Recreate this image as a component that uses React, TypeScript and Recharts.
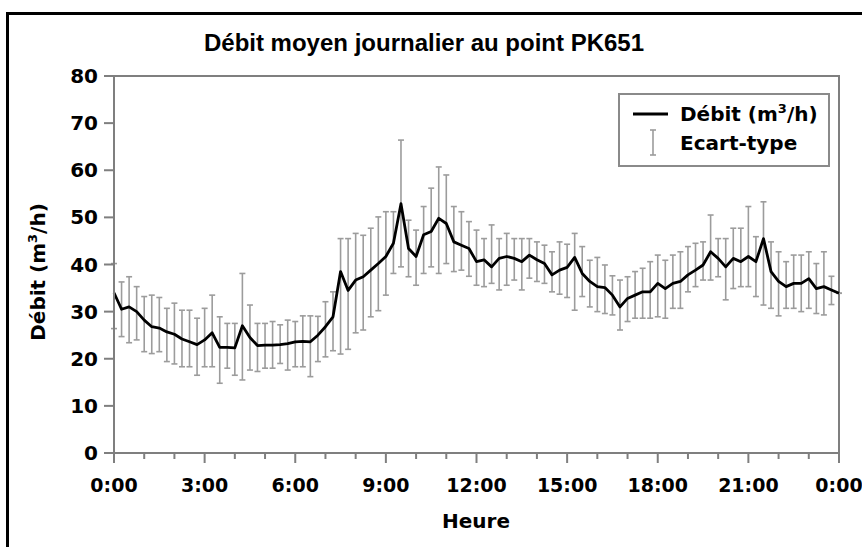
import React from 'react';
import { LineChart, Line, XAxis, YAxis, ErrorBar, Legend, ReferenceArea } from 'recharts';

const FONT = "'DejaVu Sans', 'Liberation Sans', sans-serif";
const TITLE_FONT = "'Liberation Sans', Arial, sans-serif";

const hours = [
  0, 0.25, 0.5, 0.75, 1, 1.25, 1.5, 1.75, 2, 2.25, 2.5, 2.75,
  3, 3.25, 3.5, 3.75, 4, 4.25, 4.5, 4.75, 5, 5.25, 5.5, 5.75,
  6, 6.25, 6.5, 6.75, 7, 7.25, 7.5, 7.75, 8, 8.25, 8.5, 8.75,
  9, 9.25, 9.5, 9.75, 10, 10.25, 10.5, 10.75, 11, 11.25, 11.5, 11.75,
  12, 12.25, 12.5, 12.75, 13, 13.25, 13.5, 13.75, 14, 14.25, 14.5, 14.75,
  15, 15.25, 15.5, 15.75, 16, 16.25, 16.5, 16.75, 17, 17.25, 17.5, 17.75,
  18, 18.25, 18.5, 18.75, 19, 19.25, 19.5, 19.75, 20, 20.25, 20.5, 20.75,
  21, 21.25, 21.5, 21.75, 22, 22.25, 22.5, 22.75, 23, 23.25, 23.5, 23.75,
  24,
];

// Débit moyen (m3/h)
const flow = [
  34.0, 30.5, 31.0, 30.0, 28.2, 26.8, 26.5, 25.7, 25.2, 24.2, 23.6, 23.0,
  24.0, 25.5, 22.4, 22.4, 22.3, 27.0, 24.5, 22.8, 22.9, 22.9, 23.0, 23.2,
  23.6, 23.7, 23.6, 25.0, 26.8, 28.9, 38.5, 34.5, 36.7, 37.4, 38.8, 40.2,
  41.7, 44.5, 52.9, 43.4, 41.7, 46.3, 47.0, 49.8, 48.7, 44.8, 44.1, 43.4,
  40.6, 41.0, 39.5, 41.3, 41.7, 41.3, 40.6, 42.0, 41.0, 40.2, 37.8, 38.8,
  39.4, 41.5, 38.1, 36.4, 35.3, 35.1, 33.5, 31.0, 32.8, 33.5, 34.2, 34.2,
  36.0, 34.9, 36.0, 36.4, 37.8, 38.8, 39.9, 42.7, 41.3, 39.5, 41.3, 40.6,
  41.7, 40.6, 45.5, 38.5, 36.4, 35.3, 36.0, 36.0, 37.0, 34.9, 35.3, 34.6,
  33.9,
];

// Ecart-type: upper and lower ends of each bar
const barTop = [
  40.2, 36.3, 37.4, 35.3, 33.2, 33.5, 33.0, 30.7, 31.8, 30.3, 30.3, 28.6,
  30.7, 33.5, 28.9, 27.5, 27.5, 38.1, 31.4, 27.5, 27.5, 27.9, 27.2, 28.2,
  27.9, 29.1, 29.1, 29.0, 32.1, 34.2, 45.5, 45.5, 46.6, 46.2, 47.7, 50.1,
  51.2, 51.2, 66.4, 49.4, 47.3, 52.3, 56.2, 60.7, 59.0, 52.3, 51.2, 49.1,
  47.3, 45.5, 48.4, 45.5, 46.6, 45.5, 45.5, 45.5, 44.8, 44.1, 42.7, 44.8,
  44.3, 46.6, 43.8, 40.9, 41.5, 39.9, 37.6, 36.7, 37.4, 38.5, 39.2, 40.6,
  42.0, 40.9, 42.0, 42.7, 43.8, 44.5, 44.8, 50.5, 45.5, 45.5, 47.7, 47.7,
  52.3, 45.9, 53.3, 44.8, 42.7, 40.6, 42.0, 42.0, 42.7, 40.2, 42.7, 37.5,
  33.9,
];

const barBottom = [
  26.4, 24.7, 23.4, 24.0, 21.5, 21.1, 21.5, 19.4, 18.9, 18.3, 18.3, 16.5,
  18.3, 18.3, 14.8, 18.0, 16.5, 15.5, 17.6, 17.3, 18.0, 18.0, 19.0, 17.6,
  18.3, 18.3, 16.2, 19.4, 20.4, 21.7, 21.0, 22.0, 25.5, 26.1, 28.9, 30.2,
  33.5, 38.1, 39.5, 37.4, 35.6, 38.1, 39.5, 38.1, 40.2, 38.5, 38.8, 37.5,
  35.6, 35.3, 36.0, 34.6, 35.6, 36.7, 34.6, 37.1, 36.4, 36.0, 34.2, 33.7,
  33.0, 30.3, 33.2, 31.0, 30.0, 29.6, 29.3, 26.1, 27.9, 28.6, 28.6, 28.6,
  28.9, 28.6, 30.7, 30.7, 34.2, 35.3, 36.7, 36.7, 37.4, 32.5, 34.9, 35.3,
  35.3, 33.2, 31.4, 30.7, 29.1, 30.7, 30.7, 30.0, 30.7, 29.6, 29.3, 31.5,
  33.9,
];

const xTicks = [0, 1, 2, 3, 4, 5, 6, 7, 8, 9, 10, 11, 12, 13, 14, 15, 16, 17, 18, 19, 20, 21, 22, 23, 24];
const xTickLabels = ['0:00', '3:00', '6:00', '9:00', '12:00', '15:00', '18:00', '21:00', '0:00'];
const yTicks = [0, 10, 20, 30, 40, 50, 60, 70, 80];

const AXIS_GRAY = '#7f7f7f';
const BAR_GRAY = '#9c9c9c';

function XTick(props: any) {
  const { x, y, payload } = props;
  const v = payload.value;
  const major = v % 3 === 0;
  return (
    <g>
      <line x1={x} x2={x} y1={y} y2={y + (major ? 10 : 6)} stroke={AXIS_GRAY} strokeWidth={2} />
      {major ? (
        <text x={x} y={y + 39} textAnchor="middle" fontFamily={FONT} fontWeight="bold" fontSize={19} fill="#000">
          {xTickLabels[v / 3]}
        </text>
      ) : null}
    </g>
  );
}

function LegendBox() {
  return (
    <div
      style={{
        position: 'relative',
        width: 212,
        height: 74,
        boxSizing: 'border-box',
        border: '2px solid #8a8a8a',
        background: '#fff',
        fontFamily: FONT,
        fontWeight: 'bold',
        fontSize: 20,
        color: '#000',
      }}
    >
      <svg width={212} height={74} style={{ position: 'absolute', left: -2, top: -2 }}>
        <line x1={15} x2={50} y1={21} y2={21} stroke="#000" strokeWidth={3} />
        <g stroke={BAR_GRAY} strokeWidth={1.6}>
          <line x1={35} x2={35} y1={37} y2={62} />
          <line x1={32} x2={38} y1={37} y2={37} />
          <line x1={32} x2={38} y1={62} y2={62} />
        </g>
      </svg>
      <div style={{ position: 'absolute', left: 60, top: 7, lineHeight: '24px', whiteSpace: 'nowrap' }}>
        Débit (m<span style={{ fontSize: 13, position: 'relative', top: -8 }}>3</span>/h)
      </div>
      <div style={{ position: 'absolute', left: 60, top: 36, lineHeight: '24px', whiteSpace: 'nowrap' }}>
        Ecart-type
      </div>
    </div>
  );
}

export default function App() {
  const data = hours.map((h, i) => ({
    h,
    flow: flow[i],
    err: [flow[i] - barBottom[i], barTop[i] - flow[i]],
  }));

  return (
    <div style={{ position: 'fixed', left: 0, top: 0, width: 862, height: 547, overflow: 'hidden', background: '#fff' }}>
      <svg width={862} height={547} style={{ position: 'absolute', left: 0, top: 0 }}>
        <path d="M7.5 600 V13.5 H900" fill="none" stroke="#000" strokeWidth={3} />
        <text x={424} y={51} textAnchor="middle" fontFamily={TITLE_FONT} fontWeight="bold" fontSize={24} fill="#000">
          Débit moyen journalier au point PK651
        </text>
        <text
          transform="translate(45,272) rotate(-90)"
          textAnchor="middle"
          fontFamily={FONT}
          fontWeight="bold"
          fontSize={20}
          fill="#000"
        >
          Débit (m<tspan dy={-8} fontSize={13}>3</tspan>
          <tspan dy={8}>/h)</tspan>
        </text>
        <text x={476} y={528} textAnchor="middle" fontFamily={FONT} fontWeight="bold" fontSize={20} fill="#000">
          Heure
        </text>
      </svg>
      <div style={{ position: 'absolute', left: 0, top: 0 }}>
        <LineChart width={862} height={547} data={data} margin={{ top: 76, right: 23, bottom: 14, left: 54 }}>
          <ReferenceArea x1={0} x2={24} y1={0} y2={80} fill="none" stroke={AXIS_GRAY} strokeWidth={2} ifOverflow="visible" />
          <XAxis
            dataKey="h"
            type="number"
            domain={[0, 24]}
            ticks={xTicks}
            interval={0}
            tick={<XTick />}
            tickLine={false}
            tickSize={0}
            tickMargin={0}
            axisLine={{ stroke: AXIS_GRAY, strokeWidth: 2 }}
            height={80}
          />
          <YAxis
            type="number"
            domain={[0, 80]}
            ticks={yTicks}
            interval={0}
            width={60}
            tickSize={10}
            tickMargin={6}
            tickLine={{ stroke: AXIS_GRAY, strokeWidth: 2 }}
            axisLine={{ stroke: AXIS_GRAY, strokeWidth: 2 }}
            tick={{ fill: '#000', fontSize: 20, fontWeight: 'bold', fontFamily: FONT }}
          />
          <Legend
            layout="vertical"
            align="center"
            verticalAlign="middle"
            content={() => <LegendBox />}
            wrapperStyle={{ left: 618, top: 93, width: 212, height: 74 }}
          />
          <Line
            dataKey="flow"
            stroke="none"
            dot={false}
            activeDot={false}
            legendType="none"
            isAnimationActive={false}
          >
            <ErrorBar dataKey="err" width={3} stroke={BAR_GRAY} strokeWidth={1.6} direction="y" isAnimationActive={false} />
          </Line>
          <Line
            dataKey="flow"
            stroke="#000"
            strokeWidth={2.8}
            strokeLinejoin="round"
            dot={false}
            activeDot={false}
            isAnimationActive={false}
          />
        </LineChart>
      </div>
    </div>
  );
}
